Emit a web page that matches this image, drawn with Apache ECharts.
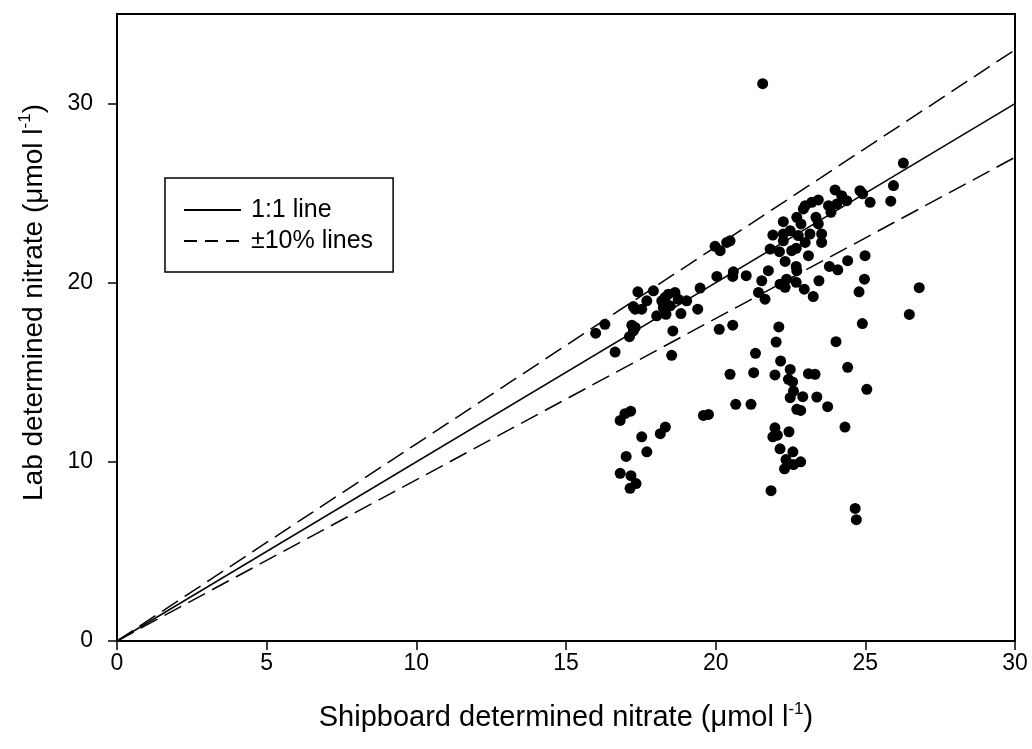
<!DOCTYPE html>
<html>
<head>
<meta charset="utf-8">
<script src="https://cdn.jsdelivr.net/npm/echarts@6/dist/echarts.min.js"></script>
<style>
html,body{margin:0;padding:0;background:#fff;}
#chart{width:1032px;height:749px;}
</style>
</head>
<body>
<div id="chart"></div>
<script>
// Shipboard determined nitrate (x) and lab determined nitrate (y), µmol/l
const shipboard = [
21.57,26.27,25.94,25.85,24.82,24.91,25.16,23.99,24.21,24.38,24.05,23.77,23.85,23.43,23.21,22.99,22.93,22.71,23.35,22.26,22.85,23.43,21.91,22.49,
22.26,22.76,23.15,23.54,22.26,22.99,23.54,21.82,22.13,22.54,22.69,23.10,22.32,24.99,21.02,21.76,21.54,22.69,22.71,23.80,24.08,24.41,24.97,22.37,
22.15,22.32,22.69,22.96,23.45,21.43,21.65,23.26,24.79,26.80,26.47,24.90,22.11,22.02,24.02,21.33,22.17,21.27,21.98,22.49,22.43,22.57,23.10,23.32,
24.41,22.60,22.49,22.91,23.38,25.05,21.18,
22.71,22.84,23.74,21.98,21.91,22.06,22.45,24.32,22.15,22.58,22.35,22.60,22.84,22.30,21.85,24.66,24.70,
16.64,18.53,20.48,20.67,19.59,19.76,16.81,16.97,17.16,18.32,18.15,17.53,17.70,17.01,16.81,17.17,17.34,17.14,
15.99,16.30,17.12,17.25,17.20,17.31,18.57,20.12,20.57,19.40,18.84,18.03,17.25,17.31,17.53,17.40,17.70,17.92,18.20,18.31,18.42,18.64,18.75,19.03,
18.48,18.25,18.34,19.48,20.04,20.59,20.57,19.98,20.15,20.37,20.48
];
const lab = [
31.11,26.68,25.42,24.55,25.14,24.96,24.49,25.18,24.86,24.58,24.40,24.30,23.93,24.62,24.49,24.30,24.12,23.65,23.65,23.41,23.28,23.28,22.66,22.90,
22.72,22.63,22.72,22.72,22.34,22.25,22.25,21.88,21.73,21.79,21.92,21.51,21.19,21.51,20.39,20.67,20.11,20.91,20.67,20.91,20.72,21.23,20.20,20.20,
19.92,19.74,20.02,19.64,20.11,19.46,19.08,19.23,19.49,19.72,18.23,17.72,17.53,16.69,16.71,16.06,15.63,14.98,14.85,15.16,14.61,14.46,14.92,14.89,
15.28,13.95,13.58,13.64,13.62,14.05,13.21,
12.93,12.87,13.08,11.90,11.40,11.49,11.68,11.94,10.73,10.56,10.13,9.85,10.00,9.61,8.39,7.40,6.77,
16.13,15.95,14.89,13.21,12.59,12.65,12.31,12.69,12.83,11.94,11.57,11.40,10.56,10.30,9.36,9.23,8.79,8.52,
17.18,17.68,16.99,17.31,17.63,17.50,17.31,17.40,17.63,18.52,18.28,18.15,18.67,18.52,18.52,19.49,18.99,19.55,18.99,19.18,19.36,19.46,19.08,18.99,
18.71,18.62,18.24,19.70,20.35,20.61,20.35,22.03,21.79,22.25,22.34
];
// Reference lines (end points)
const oneToOneLine = [[0, 0], [30, 30]];
const plus10Line = [[0, 0], [30, 33]];
const minus10Line = [[0, 0], [30, 27]];
const xTicks = [0, 5, 10, 15, 20, 25, 30];
const yTicks = [0, 10, 20, 30];
const legendNames = ['1:1 line', '±10% lines'];

const FONT = "'Liberation Sans', Arial, Helvetica, sans-serif";
const points = shipboard.map((x, i) => [x, lab[i]]);

const chart = echarts.init(document.getElementById('chart'), null, {renderer: 'canvas'});
chart.setOption({
  animation: false,
  backgroundColor: '#fff',
  grid: {left: 117, right: 17, top: 14, bottom: 108, show: true, borderColor: '#000', borderWidth: 2, backgroundColor: 'transparent'},
  legend: {
    data: [
      {name: legendNames[0]},
      {name: legendNames[1], lineStyle: {type: [13, 8]}}
    ],
    orient: 'vertical', left: 165, top: 178,
    padding: [19, 20, 18, 18],
    itemWidth: 57, itemHeight: 14, itemGap: 5,
    itemStyle: {opacity: 0},
    borderColor: '#000', borderWidth: 1.5, borderRadius: 0,
    backgroundColor: '#fff',
    textStyle: {fontFamily: FONT, fontSize: 25, color: '#000', lineHeight: 26, padding: [0, 0, 0, 5]},
    selectedMode: false
  },
  xAxis: {
    type: 'value', min: 0, max: 30, interval: 5,
    name: '{a|Shipboard determined nitrate (μmol l}{s|-1}{a|)}',
    nameLocation: 'middle', nameGap: 60,
    nameTextStyle: {rich: {
      a: {fontFamily: FONT, fontSize: 29, color: '#000', lineHeight: 34},
      s: {fontFamily: FONT, fontSize: 17, color: '#000', lineHeight: 17, verticalAlign: 'top'}
    }},
    axisLine: {show: true, onZero: false, lineStyle: {color: '#000', width: 2}},
    axisTick: {show: true, inside: false, length: 9, lineStyle: {color: '#000', width: 1.5}},
    axisLabel: {fontFamily: FONT, fontSize: 23, color: '#000', margin: 11},
    splitLine: {show: false}
  },
  yAxis: {
    type: 'value', min: 0, max: 35, interval: 10,
    name: '{a|Lab determined nitrate (μmol l}{s|-1}{a|)}',
    nameLocation: 'middle', nameGap: 66,
    nameTextStyle: {padding: [0, 0, 0, 50], rich: {
      a: {fontFamily: FONT, fontSize: 28, color: '#000', lineHeight: 34},
      s: {fontFamily: FONT, fontSize: 17, color: '#000', lineHeight: 17, verticalAlign: 'top'}
    }},
    axisLine: {show: true, onZero: false, lineStyle: {color: '#000', width: 2}},
    axisTick: {show: true, inside: false, length: 9, lineStyle: {color: '#000', width: 1.5}, customValues: yTicks},
    axisLabel: {fontFamily: FONT, fontSize: 23, color: '#000', margin: 24, customValues: yTicks},
    splitLine: {show: false}
  },
  series: [
    {name: legendNames[0], type: 'line', data: oneToOneLine, symbol: 'none', silent: true,
     itemStyle: {color: '#000'}, lineStyle: {color: '#000', width: 1.5, type: 'solid'}, z: 3},
    {name: legendNames[1], type: 'line', data: plus10Line, symbol: 'none', silent: true,
     itemStyle: {color: '#000'}, lineStyle: {color: '#000', width: 1.5, type: [19, 8]}, z: 3},
    {name: legendNames[1], type: 'line', data: minus10Line, symbol: 'none', silent: true,
     itemStyle: {color: '#000'}, lineStyle: {color: '#000', width: 1.5, type: [19, 8]}, z: 3},
    {name: 'data', type: 'scatter', data: points, symbol: 'circle', symbolSize: 11,
     itemStyle: {color: '#000', opacity: 1}, z: 4}
  ]
});
</script>
</body>
</html>
